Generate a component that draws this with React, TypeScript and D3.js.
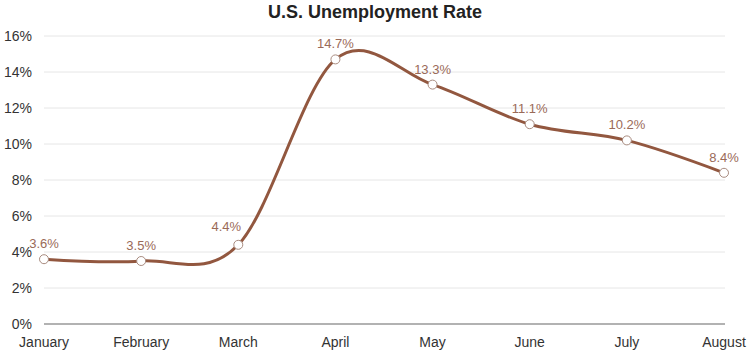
import React from 'react';
import * as d3 from 'd3';

const months = ['January', 'February', 'March', 'April', 'May', 'June', 'July', 'August'];
const rates = [3.6, 3.5, 4.4, 14.7, 13.3, 11.1, 10.2, 8.4];
const yTicks = [0, 2, 4, 6, 8, 10, 12, 14, 16];

const width = 749;
const height = 353;
const lineColor = '#92573f';
const font = 'Liberation Sans, Arial, sans-serif';

const App = () => {
  const x = d3.scalePoint<string>().domain(months).range([44, 724]);
  const y = d3.scaleLinear().domain([0, 16]).range([324, 36]);

  const line = d3.line<number>()
    .x((d, i) => x(months[i]) as number)
    .y(d => y(d))
    .curve(d3.curveCardinal.tension(0));

  // nudge a label left/up when the line climbs steeply right after its point
  const steep = (i: number) => i < rates.length - 1 && rates[i + 1] - rates[i] > 5;

  return (
    <svg width={width} height={height} style={{ position: 'absolute', left: 0, top: 0 }} fontFamily={font}>
      <text x={375} y={18} textAnchor='middle' fontSize={18} fontWeight='bold' fill='#222'>
        U.S. Unemployment Rate
      </text>
      {yTicks.map(t => (
        <g key={t}>
          {t > 0 && (
            <line x1={44} x2={725} y1={y(t)} y2={y(t)} stroke='#e6e6e6' strokeWidth={1} />
          )}
          <text x={32} y={y(t) + 5} textAnchor='end' fontSize={14} fill='#333'>
            {t}%
          </text>
        </g>
      ))}
      <line x1={44} x2={725} y1={y(0)} y2={y(0)} stroke='#999' strokeWidth={1.5} />
      {months.map(m => (
        <text key={m} x={x(m)} y={347} textAnchor='middle' fontSize={14} fill='#333'>
          {m}
        </text>
      ))}
      <path d={line(rates) || ''} fill='none' stroke={lineColor} strokeWidth={3} />
      {rates.map((r, i) => (
        <g key={months[i]}>
          <circle cx={x(months[i])} cy={y(r)} r={4.5} fill='#fff' stroke='#a88b7f' strokeWidth={1} />
          <text
            x={(x(months[i]) as number) - (steep(i) ? 12 : 0)}
            y={y(r) - (steep(i) ? 14 : 11)}
            textAnchor='middle'
            fontSize={13}
            fill='#9a6a58'
          >
            {r.toFixed(1)}%
          </text>
        </g>
      ))}
    </svg>
  );
};

export default App;
